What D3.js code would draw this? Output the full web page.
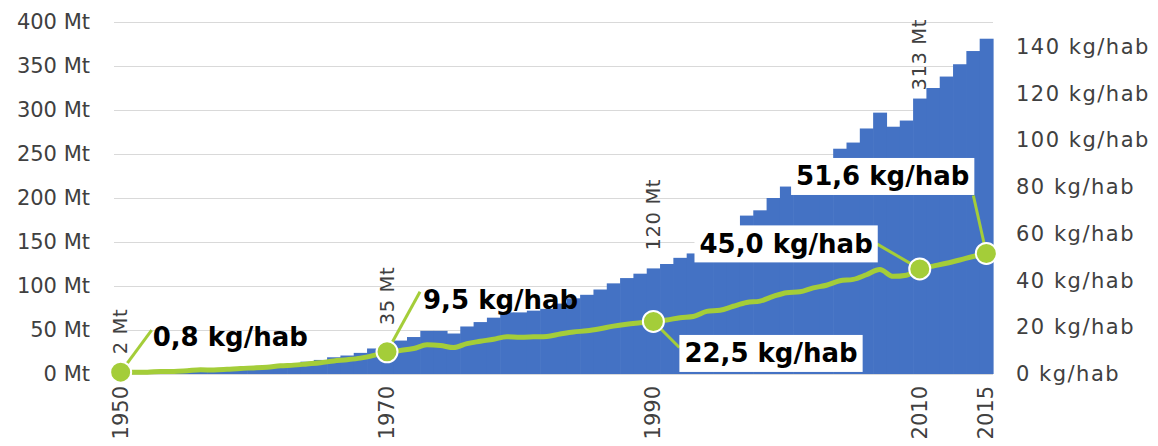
<!DOCTYPE html>
<html>
<head>
<meta charset="utf-8">
<script src="https://cdn.jsdelivr.net/npm/d3@7"></script>
<style>
  html, body { margin: 0; padding: 0; background: #fff; }
  svg text { font-family: "DejaVu Sans", sans-serif; }
</style>
</head>
<body>
<div id="chart"></div>
<script>
// production mondiale de plastique (Mt) et par habitant (kg/hab), 1950-2015
var years = d3.range(1950, 2016);
var production = [2, 2, 2, 3, 3, 4, 5, 5, 6, 7,
    8, 9, 11, 12, 14, 16, 19, 21, 24, 29,
    35, 38, 42, 49, 49, 46, 54, 59, 64, 70,
    70, 72, 74, 80, 86, 90, 96, 103, 109, 114,
    120, 125, 132, 137, 151, 156, 168, 180, 186, 200,
    213, 218, 231, 241, 256, 263, 279, 297, 281, 288,
    313, 325, 338, 352, 367, 381];
var perCapita = [0.8, 0.8, 0.8, 1.1, 1.1, 1.4, 1.8, 1.7, 2.0, 2.4,
    2.6, 2.9, 3.5, 3.8, 4.3, 4.8, 5.6, 6.1, 6.8, 8.0,
    9.5, 10.1, 10.9, 12.5, 12.2, 11.3, 13.0, 14.0, 14.9, 16.0,
    15.7, 15.9, 16.1, 17.1, 18.0, 18.5, 19.4, 20.5, 21.3, 21.9,
    22.5, 23.1, 24.1, 24.6, 26.8, 27.3, 29.0, 30.6, 31.2, 33.2,
    34.8, 35.2, 36.9, 38.0, 39.9, 40.5, 42.5, 44.7, 41.8, 42.3,
    45.0, 46.2, 47.4, 48.8, 50.3, 51.6];
var leftTicks = [0, 50, 100, 150, 200, 250, 300, 350, 400];
var rightTicks = [0, 20, 40, 60, 80, 100, 120, 140];
var yearLabels = [1950, 1970, 1990, 2010, 2015];
var barLabelYears = [1950, 1970, 1990, 2010];
var markerYears = [1950, 1970, 1990, 2010, 2015];
var calloutTexts = ["0,8 kg/hab", "9,5 kg/hab", "22,5 kg/hab", "45,0 kg/hab", "51,6 kg/hab"];

// placement des étiquettes (décalages par rapport au point)
var calloutLayout = [
    { lx: 31, ly: -42, tx: 32, ty: -35, anchor: "start", box: false },
    { lx: 33, ly: -60, tx: 36, ty: -52, anchor: "start", box: false },
    { lx: 26, ly: 26, tx: 31, ty: 32, anchor: "start", box: true },
    { lx: -43, ly: -25, tx: -47, ty: -25, anchor: "end", box: true },
    { lx: -13, ly: -58, tx: -17, ty: -77, anchor: "end", box: true }
];

var W = 1158, H = 446;
var blue = "#4472c4", green = "#a4cd39", grid = "#d9d9d9", grey = "#404040";

var svg = d3.select("#chart").append("svg")
    .attr("width", W).attr("height", H);

var x = d3.scaleBand().domain(years).range([114, 993]).padding(0);
var yL = d3.scaleLinear().domain([0, 400]).range([374, 22]);
var yR = d3.scaleLinear().domain([0, 150.7]).range([374, 22]);
var bw = x.bandwidth();
function cx(yr) { return x(yr) + bw / 2; }

// grille
svg.append("g").selectAll("line")
    .data(leftTicks).enter().append("line")
    .attr("x1", 114).attr("x2", 993)
    .attr("y1", function (d) { return Math.round(yL(d)) + 0.5; })
    .attr("y2", function (d) { return Math.round(yL(d)) + 0.5; })
    .attr("stroke", grid).attr("stroke-width", 1);

// axe gauche
svg.append("g").selectAll("text")
    .data(leftTicks).enter().append("text")
    .attr("x", 90).attr("y", function (d) { return yL(d); })
    .attr("text-anchor", "end").attr("dominant-baseline", "central")
    .attr("font-size", 21).attr("fill", grey)
    .text(function (d) { return d + " Mt"; });

// axe droit
svg.append("g").selectAll("text")
    .data(rightTicks).enter().append("text")
    .attr("x", 1016).attr("y", function (d) { return yR(d); })
    .attr("dominant-baseline", "central")
    .attr("font-size", 21).attr("letter-spacing", 1.5).attr("fill", grey)
    .text(function (d) { return d + " kg/hab"; });

// barres
svg.append("g").selectAll("rect")
    .data(years).enter().append("rect")
    .attr("x", function (d) { return x(d); })
    .attr("width", bw + 0.6)
    .attr("y", function (d, i) { return yL(production[i]); })
    .attr("height", function (d, i) { return yL(0) - yL(production[i]); })
    .attr("fill", blue);

// années
svg.append("g").selectAll("text")
    .data(yearLabels).enter().append("text")
    .attr("transform", function (d) { return "translate(" + cx(d) + ",386) rotate(-90)"; })
    .attr("text-anchor", "end").attr("dominant-baseline", "central")
    .attr("font-size", 21).attr("fill", grey)
    .text(function (d) { return d; });

// étiquettes des barres
svg.append("g").selectAll("text")
    .data(barLabelYears).enter().append("text")
    .attr("dominant-baseline", "central")
    .attr("font-size", 19.5).attr("letter-spacing", 0.6).attr("fill", grey)
    .text(function (d) { return production[years.indexOf(d)] + " Mt"; })
    .each(function (d) {
        var len = this.getComputedTextLength();
        var bottom = Math.max(yL(production[years.indexOf(d)]) - 18, 19 + len);
        d3.select(this).attr("transform", "translate(" + cx(d) + "," + bottom + ") rotate(-90)");
    });

// courbe kg/hab
var line = d3.line()
    .x(function (d, i) { return cx(years[i]); })
    .y(function (d) { return yR(d); })
    .curve(d3.curveMonotoneX);

svg.append("path")
    .attr("d", line(perCapita))
    .attr("fill", "none").attr("stroke", green)
    .attr("stroke-width", 5).attr("stroke-linejoin", "round");

// points annotés
var pts = markerYears.map(function (yr, i) {
    var v = perCapita[years.indexOf(yr)];
    return { year: yr, px: cx(yr), py: yR(v), text: calloutTexts[i], lay: calloutLayout[i] };
});

svg.append("g").selectAll("line")
    .data(pts).enter().append("line")
    .attr("x1", function (d) { return d.px; })
    .attr("y1", function (d) { return d.py; })
    .attr("x2", function (d) { return d.px + d.lay.lx; })
    .attr("y2", function (d) { return d.py + d.lay.ly; })
    .attr("stroke", green).attr("stroke-width", 3);

svg.append("g").selectAll("circle")
    .data(pts).enter().append("circle")
    .attr("cx", function (d) { return d.px; })
    .attr("cy", function (d) { return d.py; })
    .attr("r", 10.5)
    .attr("fill", green).attr("stroke", "#fff").attr("stroke-width", 2);

var callouts = svg.append("g").selectAll("g")
    .data(pts).enter().append("g");

callouts.each(function (d) {
    var g = d3.select(this);
    var t = g.append("text")
        .attr("x", d.px + d.lay.tx).attr("y", d.py + d.lay.ty)
        .attr("text-anchor", d.lay.anchor).attr("dominant-baseline", "central")
        .attr("font-size", 26).attr("font-weight", "bold").attr("fill", "#000")
        .text(d.text);
    if (d.lay.box) {
        var b = t.node().getBBox();
        g.insert("rect", "text")
            .attr("x", b.x - 5).attr("y", d.py + d.lay.ty - 18.5)
            .attr("width", b.width + 10).attr("height", 37)
            .attr("fill", "#fff");
    }
});
</script>
</body>
</html>
